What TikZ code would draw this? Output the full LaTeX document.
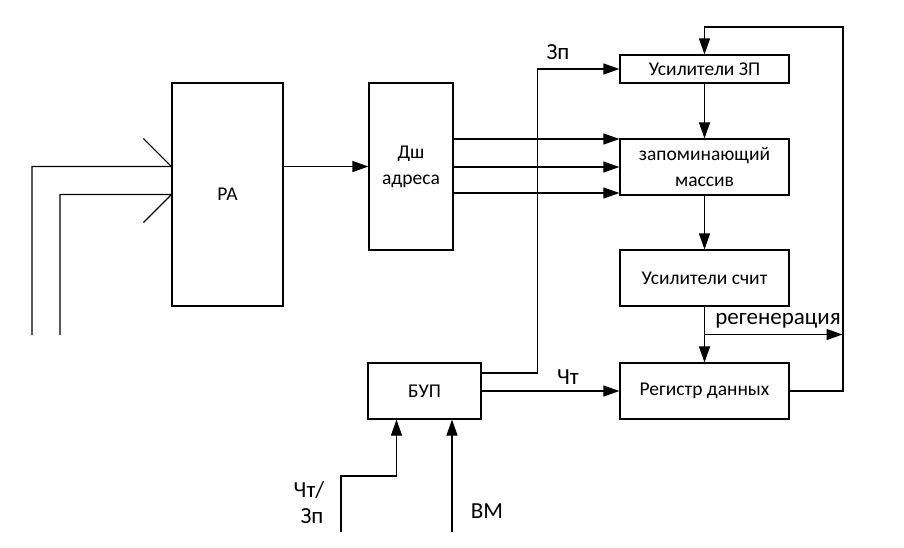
\documentclass[tikz,border=0pt]{standalone}
\usepackage{fontspec}
\setmainfont{Carlito}
\usetikzlibrary{arrows.meta,calc}
\tikzset{
  block/.style={draw,line width=1.2pt,inner sep=0pt,align=center,
    font=\fontsize{19.5}{26}\selectfont},
  wire/.style={line width=1.2pt},
  arr/.style={wire,-{Triangle[length=16pt,width=11pt]}},
  lbl/.style={font=\fontsize{23}{26}\selectfont,inner sep=0pt}
}
\begin{document}
\begin{tikzpicture}[x=1pt,y=-1pt]
    \useasboundingbox (0,0) rectangle (904,547);

    % blocks
    \node[block,minimum width=111,minimum height=223] (ra) at (227.5,194.5) {РА};
    \node[block,minimum width=84,minimum height=167] (dsh) at (411,166.5) {Дш\\адреса};
    \node[block,minimum width=169,minimum height=28] (uzp) at (704.5,69) {Усилители ЗП};
    \node[block,minimum width=169,minimum height=56] (mas) at (704.5,167) {запоминающий\\массив};
    \node[block,minimum width=169,minimum height=56] (usch) at (704.5,278) {Усилители счит};
    \node[block,minimum width=169,minimum height=56] (rd) at (704.5,391) {Регистр данных};
    \node[block,minimum width=113,minimum height=56] (bup) at (424.5,391) {БУП};

    % address inputs
    \coordinate (in1) at (32,335);
    \coordinate (in2) at (60,335);
    \draw[wire] (in1) |- ($(ra.west)+(0,-28)$) -- ++(-28,-28);
    \draw[wire] (in2) |- (ra.west) -- ++(-28,28);

    \draw[arr] (ra.east |- dsh.west) -- (dsh.west);
    \foreach \dy in {-28,0,26}
      \draw[arr] ($(dsh.east |- mas.west)+(0,\dy)$) -- ($(mas.west)+(0,\dy)$);

    % control
    \draw[arr] ($(bup.east)+(0,-18)$) -- ++(56,0) |- (uzp.west);
    \node[lbl] (zp) at (558,52) {Зп};
    \draw[arr] (bup.east) -- (rd.west);
    \node[lbl] (cht) at (568,377) {Чт};

    \draw[arr] (uzp.south) -- (mas.north);
    \draw[arr] (mas.south) -- (usch.north);
    \draw[arr] (usch.south) -- (rd.north);

    \coordinate (reg) at ($(usch.south)!0.5!(rd.north)$);
    \draw[arr] (reg) -- ++(138,0);
    \node[lbl] (regl) at (778,321) {регенерация};

    \coordinate (fb) at (843,27);
    \draw[arr] (rd.east) -| (fb) -| (uzp.north);

    % bottom inputs
    \coordinate (cz) at (341,532);
    \coordinate (vm) at (452,532);
    \draw[arr] (cz) -- ++(0,-56) -| ($(bup.south)+(-28,0)$);
    \draw[arr] (vm) -- (vm |- bup.south);
    \node[lbl] (czl) at (309,490) {Чт/};
    \node[lbl] (czl2) at (312,516) {Зп};
    \node[lbl] (vml) at (487,511) {ВМ};
\end{tikzpicture}
\end{document}
